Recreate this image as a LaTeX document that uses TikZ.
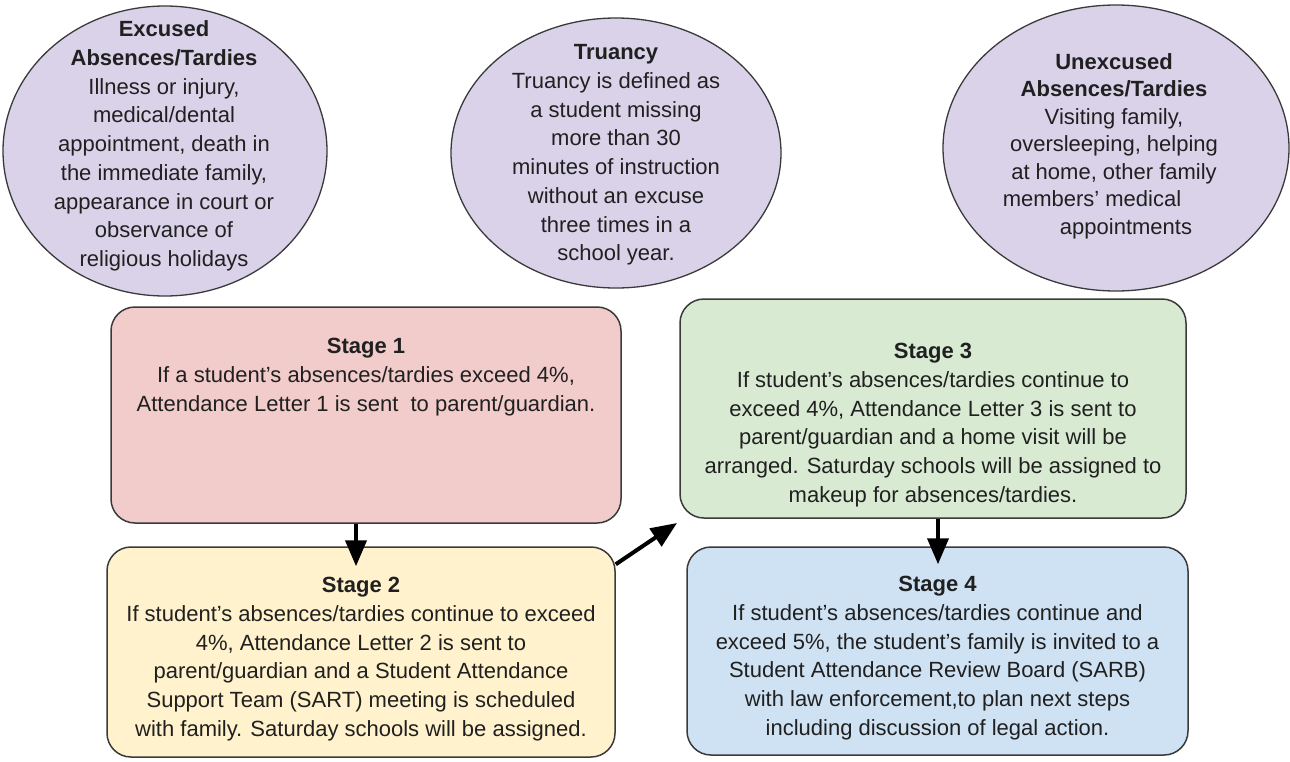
\documentclass[tikz,border=0pt]{standalone}
\usepackage{fontspec}
\setmainfont{Liberation Sans}
\usetikzlibrary{shapes.geometric,arrows.meta}
\definecolor{ovalfill}{HTML}{D9D2E9}
\definecolor{sonefill}{HTML}{F2CBCB}
\definecolor{stwofill}{HTML}{FFF2CC}
\definecolor{sthreefill}{HTML}{D9EAD3}
\definecolor{sfourfill}{HTML}{CFE2F3}
\definecolor{linegray}{HTML}{3A3A3A}
\definecolor{textcol}{HTML}{202020}
\begin{document}
\begin{tikzpicture}[x=1pt,y=-1pt,
  oval/.style={ellipse, draw=linegray, line width=1.3pt, fill=ovalfill, inner sep=0pt},
  stagebox/.style={rectangle, rounded corners=24pt, draw=linegray, line width=1.5pt, inner sep=0pt},
  txt/.style={align=center, font=\fontsize{22}{28.7}\selectfont, text=textcol, inner sep=0pt},
  arr/.style={line width=4pt, draw=black, -{Triangle[width=21pt,length=26pt]}}]
\useasboundingbox[fill=white] (0,0) rectangle (1290,761);

% ovals
\node[oval, minimum width=324pt, minimum height=290pt] (e1) at (165,151) {};
\node[txt] (e1t) at (164,146) {\textbf{Excused}\\ \textbf{Absences/Tardies}\\ Illness or injury,\\ medical/dental\\ appointment, death in\\ the immediate family,\\ appearance in court or\\ observance of\\ religious holidays};

\node[oval, minimum width=330pt, minimum height=270pt] (e2) at (616,153) {};
\node[txt] (e2t) at (616,155) {\textbf{Truancy}\\ Truancy is defined as\\ a student missing\\ more than 30\\ minutes of instruction\\ without an excuse\\ three times in a\\ school year.};

\node[oval, minimum width=346pt, minimum height=286pt] (e3) at (1116,148) {};
\node[txt, font=\fontsize{22}{27.5}\selectfont] (e3t) at (1114,146) {\textbf{Unexcused}\\ \textbf{Absences/Tardies}\\ Visiting family,\\ oversleeping, helping\\ at home, other family\\ members' medical\rule{44pt}{0pt}\\ \rule{24pt}{0pt}appointments};

% stage boxes
\node[stagebox, fill=sonefill, minimum width=510pt, minimum height=216pt] (s1) at (366,415) {};
\node[txt] (s1t) at (366,377) {\textbf{Stage 1}\\ If a student's absences/tardies exceed 4\%,\\ Attendance Letter 1 is sent\ \ to parent/guardian.};

\node[stagebox, fill=stwofill, minimum width=508pt, minimum height=210pt] (s2) at (361,652) {};
\node[txt] (s2t) at (361,659) {\textbf{Stage 2}\\ If student's absences/tardies continue to exceed\\ 4\%, Attendance Letter 2 is sent to\\ parent/guardian and a Student Attendance\\ Support Team (SART) meeting is scheduled\\ with family. Saturday schools will be assigned.};

\node[stagebox, fill=sthreefill, minimum width=506pt, minimum height=219pt] (s3) at (933,408.5) {};
\node[txt] (s3t) at (933,425) {\textbf{Stage 3}\\ If student's absences/tardies continue to\\ exceed 4\%, Attendance Letter 3 is sent to\\ parent/guardian and a home visit will be\\ arranged. Saturday schools will be assigned to\\ makeup for absences/tardies.};

\node[stagebox, fill=sfourfill, minimum width=501pt, minimum height=208pt] (s4) at (937.5,651) {};
\node[txt] (s4t) at (937.5,658) {\textbf{Stage 4}\\ If student's absences/tardies continue and\\ exceed 5\%, the student's family is invited to a\\ Student Attendance Review Board (SARB)\\ with law enforcement,to plan next steps\\ including discussion of legal action.};

% arrows
\coordinate (a1x) at (356,0);
\coordinate (a3x) at (938,0);
\coordinate (a2e) at (677,523);
\draw[arr, shorten >=-20pt] (s1.south -| a1x) -- (s2.north -| a1x);
\draw[arr, shorten >=-18pt] (s3.south -| a3x) -- (s4.north -| a3x);
\draw[arr] (s2.19) -- (a2e);
\end{tikzpicture}
\end{document}
